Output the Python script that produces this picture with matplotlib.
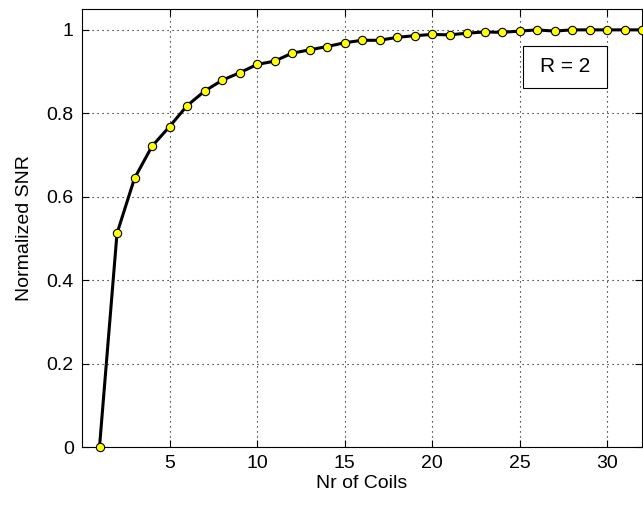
import matplotlib
matplotlib.use('Agg')
import matplotlib.pyplot as plt
from matplotlib.patches import Rectangle

# data
coils = list(range(1, 33))
snr = [0.0, 0.512, 0.644, 0.721, 0.768, 0.818, 0.853, 0.879, 0.897, 0.917,
       0.925, 0.944, 0.952, 0.960, 0.969, 0.975, 0.975, 0.982, 0.986, 0.989,
       0.988, 0.992, 0.995, 0.994, 0.997, 1.000, 0.997, 1.000, 1.000, 1.000,
       1.000, 1.000]
xticks = [5, 10, 15, 20, 25, 30]
yticks = [0, 0.2, 0.4, 0.6, 0.8, 1]
yticklabels = ['0', '0.2', '0.4', '0.6', '0.8', '1']

plt.rcParams['font.family'] = ['Liberation Sans', 'DejaVu Sans']

fig = plt.figure(figsize=(6.43, 5.05), dpi=100)
ax = fig.add_axes([82/643, 58/505, 560/643, 438/505])

ax.plot(coils, snr, '-', color='black', lw=2.2, marker='o', markersize=6,
        markerfacecolor='#ffff00', markeredgecolor='black', markeredgewidth=0.8,
        clip_on=False, zorder=3)

ax.set_xlim(0, 32)
ax.set_ylim(0, 1.05)
ax.set_xticks(xticks)
ax.set_yticks(yticks)
ax.set_yticklabels(yticklabels)
ax.tick_params(direction='in', length=5, width=0.8, labelsize=14,
               top=True, right=True, pad=6)
ax.grid(True, linestyle=(0, (1, 3.5)), color='black', linewidth=0.8)
for s in ax.spines.values():
    s.set_linewidth(0.8)

ax.set_xlabel('Nr of Coils', fontsize=14, labelpad=2)
ax.set_ylabel('Normalized SNR', fontsize=14, labelpad=10)

# annotation box
ax.add_patch(Rectangle((25.2, 0.861), 4.8, 0.101, facecolor='white',
                       edgecolor='black', linewidth=0.8, zorder=4))
ax.text(27.6, 0.912, 'R = 2', fontsize=15, ha='center', va='center', zorder=5)

fig.savefig('out.png', dpi=100)
